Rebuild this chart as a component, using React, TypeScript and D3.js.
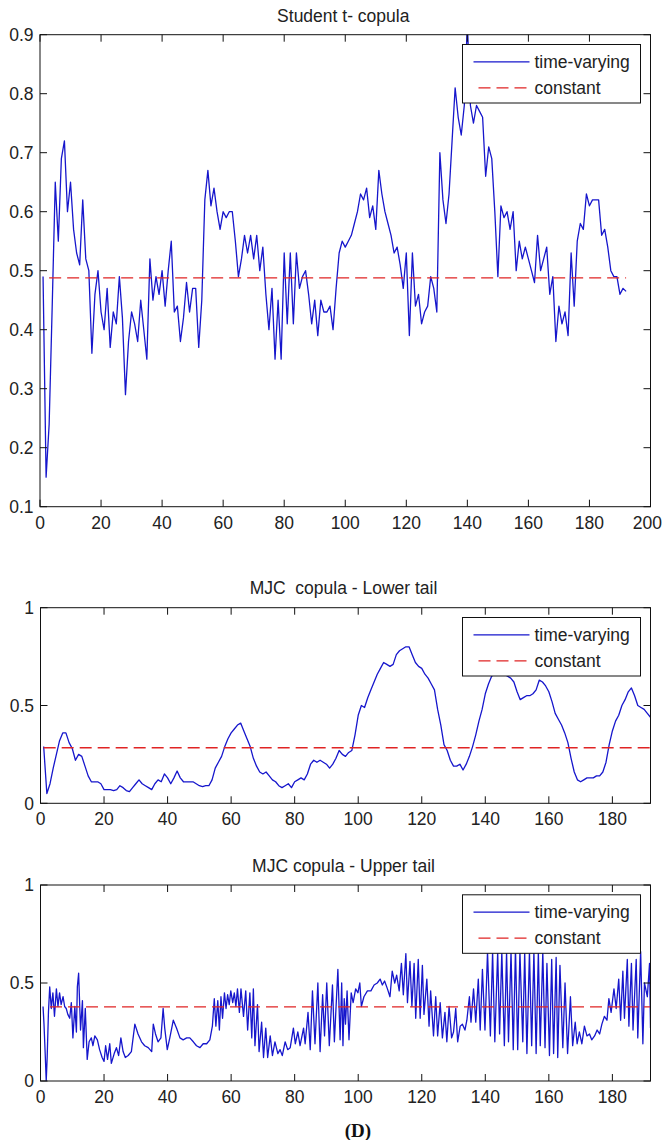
import * as d3 from 'd3'
import { useEffect, useRef } from 'react'

// Student t- copula, time-varying (t = 1..192)
const studentT = [
  0.49, 0.15, 0.24, 0.44, 0.65, 0.55, 0.69, 0.72, 0.6, 0.65,
  0.57, 0.53, 0.51, 0.62, 0.52, 0.5, 0.36, 0.46, 0.5, 0.43,
  0.4, 0.47, 0.37, 0.43, 0.41, 0.49, 0.42, 0.29, 0.38, 0.43,
  0.41, 0.38, 0.45, 0.4, 0.35, 0.52, 0.45, 0.49, 0.46, 0.5,
  0.44, 0.5, 0.55, 0.43, 0.44, 0.38, 0.42, 0.48, 0.43, 0.47,
  0.47, 0.37, 0.45, 0.62, 0.67, 0.61, 0.64, 0.6, 0.57, 0.6,
  0.59, 0.6, 0.6, 0.55, 0.49, 0.52, 0.56, 0.53, 0.56, 0.52,
  0.56, 0.5, 0.54, 0.46, 0.4, 0.47, 0.35, 0.45, 0.35, 0.53,
  0.41, 0.53, 0.41, 0.53, 0.47, 0.49, 0.5, 0.46, 0.41, 0.45,
  0.39, 0.45, 0.43, 0.43, 0.44, 0.4, 0.47, 0.53, 0.55, 0.54,
  0.55, 0.56, 0.58, 0.6, 0.63, 0.62, 0.64, 0.59, 0.61, 0.57,
  0.67, 0.63, 0.6, 0.58, 0.56, 0.53, 0.54, 0.51, 0.47, 0.53,
  0.39, 0.53, 0.44, 0.46, 0.41, 0.43, 0.44, 0.49, 0.47, 0.43,
  0.7, 0.62, 0.58, 0.63, 0.72, 0.81, 0.76, 0.73, 0.78, 0.92,
  0.78, 0.75, 0.78, 0.77, 0.76, 0.66, 0.71, 0.69, 0.6, 0.49,
  0.61, 0.59, 0.6, 0.57, 0.6, 0.5, 0.55, 0.52, 0.54, 0.52,
  0.5, 0.48, 0.56, 0.5, 0.52, 0.54, 0.46, 0.49, 0.38, 0.44,
  0.41, 0.43, 0.39, 0.53, 0.44, 0.55, 0.58, 0.57, 0.63, 0.61,
  0.62, 0.62, 0.62, 0.56, 0.57, 0.54, 0.5, 0.49, 0.49, 0.46,
  0.47, 0.465,
]

// MJC copula lower tail, time-varying (t = 1..192)
const lowerTail = [
  0.29, 0.05, 0.1, 0.18, 0.25, 0.32, 0.36, 0.36, 0.31, 0.28,
  0.22, 0.25, 0.24, 0.19, 0.14, 0.11, 0.11, 0.11, 0.1, 0.07,
  0.07, 0.07, 0.065, 0.07, 0.09, 0.08, 0.065, 0.06, 0.08, 0.1,
  0.12, 0.1, 0.09, 0.08, 0.07, 0.1, 0.12, 0.11, 0.15, 0.13,
  0.1, 0.13, 0.165, 0.13, 0.11, 0.11, 0.11, 0.11, 0.1, 0.09,
  0.085, 0.09, 0.09, 0.12, 0.18, 0.21, 0.24, 0.29, 0.33, 0.36,
  0.38, 0.4, 0.41, 0.37, 0.33, 0.29, 0.23, 0.19, 0.16, 0.15,
  0.16, 0.14, 0.12, 0.11, 0.09, 0.08, 0.09, 0.1, 0.08, 0.11,
  0.12, 0.13, 0.12, 0.15, 0.2, 0.22, 0.21, 0.22, 0.21, 0.2,
  0.18, 0.2, 0.23, 0.27, 0.25, 0.24, 0.26, 0.27, 0.35, 0.45,
  0.5, 0.49, 0.54, 0.58, 0.62, 0.66, 0.69, 0.72, 0.71, 0.7,
  0.71, 0.76, 0.78, 0.79, 0.8, 0.8, 0.76, 0.72, 0.7, 0.69,
  0.66, 0.64, 0.61, 0.58, 0.48, 0.4, 0.3, 0.27, 0.22, 0.19,
  0.19, 0.2, 0.17, 0.2, 0.24, 0.29, 0.35, 0.42, 0.48, 0.56,
  0.61, 0.65, 0.66, 0.66, 0.67, 0.66, 0.65, 0.64, 0.62, 0.57,
  0.53, 0.54, 0.55, 0.55, 0.56, 0.58, 0.63, 0.62, 0.6, 0.57,
  0.52, 0.46, 0.43, 0.4, 0.36, 0.31, 0.23, 0.16, 0.12, 0.11,
  0.12, 0.13, 0.13, 0.13, 0.14, 0.14, 0.16, 0.21, 0.3, 0.37,
  0.42, 0.45, 0.5, 0.53, 0.57, 0.59, 0.55, 0.5, 0.49, 0.48,
  0.46, 0.44,
]

// MJC copula upper tail, time-varying, read as [t, value]
const upperTail = [
  [0.8, 0.38], [1.1, 0.29], [1.5, 0.13], [1.8, 0.0], [2.1, 0.12], [2.5, 0.35], [2.9, 0.48],
  [3.4, 0.37], [3.9, 0.45], [4.4, 0.33], [5.0, 0.47], [5.5, 0.38], [6.0, 0.45], [6.5, 0.39],
  [7.1, 0.43], [7.6, 0.38], [8.1, 0.37], [8.6, 0.34], [9.2, 0.32], [9.7, 0.4], [10.2, 0.22],
  [10.8, 0.38], [11.3, 0.25], [11.6, 0.48], [12.0, 0.55], [12.6, 0.26], [13.2, 0.41], [13.5, 0.17],
  [14.1, 0.37], [14.7, 0.11], [15.3, 0.2], [16.0, 0.22], [16.5, 0.18], [17.1, 0.23], [17.9, 0.21],
  [18.6, 0.16], [19.4, 0.12], [20.0, 0.1], [20.5, 0.18], [21.1, 0.11], [21.8, 0.19], [22.3, 0.09],
  [23.2, 0.14], [23.9, 0.17], [24.6, 0.13], [25.3, 0.22], [26.0, 0.15], [26.7, 0.12], [27.6, 0.13],
  [28.6, 0.15], [29.7, 0.29], [30.7, 0.24], [31.8, 0.2], [32.8, 0.18], [33.9, 0.17], [35.0, 0.15],
  [35.5, 0.29], [36.2, 0.24], [37.0, 0.2], [37.9, 0.22], [38.6, 0.37], [39.1, 0.27], [39.9, 0.16],
  [40.7, 0.22], [41.8, 0.31], [42.8, 0.27], [43.9, 0.22], [44.9, 0.21], [46.0, 0.22], [47.0, 0.22],
  [48.1, 0.2], [49.1, 0.18], [50.2, 0.17], [51.2, 0.19], [52.3, 0.19], [53.3, 0.21], [54.1, 0.28],
  [54.7, 0.42], [55.2, 0.28], [55.8, 0.41], [56.3, 0.26], [56.8, 0.43], [57.3, 0.32], [57.9, 0.45],
  [58.4, 0.37], [58.9, 0.44], [59.4, 0.39], [59.9, 0.46], [60.5, 0.4], [61.0, 0.45], [61.5, 0.38],
  [62.0, 0.47], [62.6, 0.35], [63.1, 0.47], [63.9, 0.33], [64.6, 0.46], [65.2, 0.26], [65.9, 0.45],
  [66.5, 0.22], [67.0, 0.47], [67.5, 0.18], [68.3, 0.39], [68.8, 0.15], [69.6, 0.3], [70.2, 0.12],
  [70.9, 0.27], [71.5, 0.12], [72.3, 0.23], [73.0, 0.13], [73.8, 0.2], [74.7, 0.14], [75.4, 0.16],
  [76.1, 0.13], [77.0, 0.2], [77.8, 0.16], [78.6, 0.17], [79.6, 0.27], [80.2, 0.19], [81.0, 0.25],
  [81.7, 0.18], [82.8, 0.27], [83.3, 0.19], [84.2, 0.35], [84.9, 0.16], [85.6, 0.46], [86.4, 0.19],
  [87.3, 0.5], [88.0, 0.15], [88.8, 0.44], [89.4, 0.23], [90.1, 0.5], [90.9, 0.18], [91.9, 0.49],
  [92.5, 0.2], [93.6, 0.57], [94.3, 0.21], [94.8, 0.5], [95.2, 0.18], [95.6, 0.42], [96.0, 0.29],
  [96.5, 0.46], [97.1, 0.21], [97.8, 0.45], [98.4, 0.4], [99.2, 0.47], [99.9, 0.45], [100.5, 0.5],
  [101.0, 0.38], [101.8, 0.43], [102.9, 0.46], [104.0, 0.46], [105.0, 0.49], [106.0, 0.5], [106.9, 0.52],
  [107.6, 0.49], [108.3, 0.51], [109.2, 0.47], [110.0, 0.43], [110.7, 0.56], [111.5, 0.5], [112.1, 0.54],
  [112.9, 0.46], [113.6, 0.6], [114.2, 0.44], [115.0, 0.65], [115.5, 0.4], [116.3, 0.61], [116.9, 0.38],
  [117.6, 0.6], [118.1, 0.32], [118.9, 0.62], [119.5, 0.32], [120.2, 0.59], [120.7, 0.34], [121.6, 0.52],
  [122.3, 0.28], [122.8, 0.46], [123.7, 0.23], [124.4, 0.43], [125.0, 0.23], [125.8, 0.4], [126.5, 0.22],
  [127.3, 0.35], [127.9, 0.2], [128.6, 0.38], [129.4, 0.22], [130.0, 0.25], [130.7, 0.37], [131.3, 0.2],
  [132.1, 0.28], [132.8, 0.29], [133.6, 0.26], [134.2, 0.31], [135.0, 0.43], [135.5, 0.3], [136.3, 0.47],
  [137.0, 0.3], [137.8, 0.52], [138.4, 0.26], [139.1, 0.57], [139.9, 0.26], [140.7, 0.66], [141.6, 0.23],
  [142.3, 0.66], [143.0, 0.2], [143.9, 0.66], [144.5, 0.24], [145.2, 0.66], [146.0, 0.18], [146.7, 0.66],
  [147.3, 0.2], [148.1, 0.66], [148.8, 0.16], [149.5, 0.68], [150.2, 0.16], [150.9, 0.66], [151.8, 0.2],
  [152.4, 0.66], [153.1, 0.14], [153.9, 0.66], [154.6, 0.18], [155.3, 0.66], [156.0, 0.14], [156.7, 0.66],
  [157.3, 0.18], [158.1, 0.66], [158.8, 0.17], [159.4, 0.6], [160.2, 0.13], [160.9, 0.62], [161.5, 0.14],
  [162.3, 0.63], [162.8, 0.12], [163.5, 0.59], [164.4, 0.17], [165.1, 0.5], [165.9, 0.14], [166.8, 0.43],
  [167.5, 0.18], [168.3, 0.3], [168.9, 0.19], [169.6, 0.25], [170.4, 0.19], [171.2, 0.28], [172.0, 0.23],
  [172.8, 0.24], [173.5, 0.21], [174.4, 0.23], [175.2, 0.26], [176.0, 0.24], [176.7, 0.29], [177.5, 0.33],
  [178.3, 0.31], [178.9, 0.42], [179.6, 0.35], [180.5, 0.47], [181.2, 0.37], [182.0, 0.52], [182.6, 0.31],
  [183.3, 0.56], [183.8, 0.32], [184.7, 0.62], [185.2, 0.28], [186.0, 0.6], [186.5, 0.26], [187.5, 0.62],
  [188.0, 0.22], [188.9, 0.66], [189.6, 0.19], [190.1, 0.5], [191.0, 0.43], [191.7, 0.6], [192.0, 0.27],
]

// constant copula parameters
const studentConst = 0.488
const lowerConst = 0.284
const upperConst = 0.378

const titles = ['Student t- copula', 'MJC  copula - Lower tail', 'MJC copula - Upper tail']
const legendLabels = ['time-varying', 'constant']
const studentYTicks = [0.1, 0.2, 0.3, 0.4, 0.5, 0.6, 0.7, 0.8, 0.9]
const tailYTicks = [0, 0.5, 1]
const studentXTicks = [0, 20, 40, 60, 80, 100, 120, 140, 160, 180, 200]
const tailXTicks = [0, 20, 40, 60, 80, 100, 120, 140, 160, 180]

const FONT = '"Liberation Sans", Arial, Helvetica, sans-serif'
const FS = '17.5px'
const BLUE = '#1616cc'
const RED = '#e02424'
const TICK = 7
const W = 663

const App = () => {
  const svgRef = useRef<SVGSVGElement>(null)

  useEffect(() => {
    const svg = d3.select(svgRef.current)
    svg.selectAll('*').remove()

    const panels = [
      {
        id: 'p0', title: titles[0], top: 34.7, bottom: 506.7, left: 40, right: 650.5,
        xDomain: [0, 200], yDomain: [0.1, 0.9], xTicks: studentXTicks, yTicks: studentYTicks,
        yFmt: d3.format('.1f'),
        data: studentT.map((v, i) => [i + 1, v]), constant: studentConst, constFrom: 3,
        titleY: 21.7,
      },
      {
        id: 'p1', title: titles[1], top: 607.7, bottom: 803.3, left: 40.5, right: 650.5,
        xDomain: [0, 192], yDomain: [0, 1], xTicks: tailXTicks, yTicks: tailYTicks,
        yFmt: (d) => String(d),
        data: lowerTail.map((v, i) => [i + 1, v]), constant: lowerConst, constFrom: 1,
        titleY: 594,
      },
      {
        id: 'p2', title: titles[2], top: 885, bottom: 1081, left: 40.5, right: 650.5,
        xDomain: [0, 192], yDomain: [0, 1], xTicks: tailXTicks, yTicks: tailYTicks,
        yFmt: (d) => String(d),
        data: upperTail, constant: upperConst, constFrom: 3,
        titleY: 872,
      },
    ]

    panels.forEach((p) => {
      const x = d3.scaleLinear().domain(p.xDomain).range([p.left, p.right])
      const y = d3.scaleLinear().domain(p.yDomain).range([p.bottom, p.top])
      const g = svg.append('g')

      g.append('clipPath')
        .attr('id', `clip-${p.id}`)
        .append('rect')
        .attr('x', p.left)
        .attr('y', p.top)
        .attr('width', p.right - p.left)
        .attr('height', p.bottom - p.top)

      // title
      g.append('text')
        .attr('x', (p.left + p.right) / 2 - 2)
        .attr('y', p.titleY)
        .attr('text-anchor', 'middle')
        .style('font-family', FONT)
        .style('font-size', FS)
        .style('fill', '#222')
        .style('white-space', 'pre')
        .text(p.title)

      // series
      const plot = g.append('g').attr('clip-path', `url(#clip-${p.id})`)
      const line = d3
        .line()
        .x((d) => x(d[0]))
        .y((d) => y(d[1]))
      plot
        .append('path')
        .datum(p.data)
        .attr('d', line)
        .attr('fill', 'none')
        .attr('stroke', BLUE)
        .attr('stroke-width', 1.3)
        .attr('stroke-linejoin', 'round')
      plot
        .append('line')
        .attr('x1', x(p.constFrom))
        .attr('x2', x(192))
        .attr('y1', y(p.constant))
        .attr('y2', y(p.constant))
        .attr('stroke', RED)
        .attr('stroke-width', 1.3)
        .attr('stroke-dasharray', '12,6')

      // box + inward ticks
      g.append('rect')
        .attr('x', p.left)
        .attr('y', p.top)
        .attr('width', p.right - p.left)
        .attr('height', p.bottom - p.top)
        .attr('fill', 'none')
        .attr('stroke', '#111')
        .attr('stroke-width', 1)
      p.xTicks.forEach((t) => {
        g.append('line')
          .attr('x1', x(t)).attr('x2', x(t))
          .attr('y1', p.bottom).attr('y2', p.bottom - TICK)
          .attr('stroke', '#111')
        g.append('line')
          .attr('x1', x(t)).attr('x2', x(t))
          .attr('y1', p.top).attr('y2', p.top + TICK)
          .attr('stroke', '#111')
        // keep the last label inside the page
        const overflow = x(t) + 15 > W - 1
        g.append('text')
          .attr('x', overflow ? W - 1 : x(t))
          .attr('y', p.bottom + 22)
          .attr('text-anchor', overflow ? 'end' : 'middle')
          .style('font-family', FONT)
          .style('font-size', FS)
          .style('fill', '#222')
          .text(t)
      })
      p.yTicks.forEach((t) => {
        g.append('line')
          .attr('x1', p.left).attr('x2', p.left + TICK)
          .attr('y1', y(t)).attr('y2', y(t))
          .attr('stroke', '#111')
        g.append('line')
          .attr('x1', p.right).attr('x2', p.right - TICK)
          .attr('y1', y(t)).attr('y2', y(t))
          .attr('stroke', '#111')
        g.append('text')
          .attr('x', p.left - 6.5)
          .attr('y', y(t))
          .attr('dy', '0.36em')
          .attr('text-anchor', 'end')
          .style('font-family', FONT)
          .style('font-size', FS)
          .style('fill', '#222')
          .text(p.yFmt(t))
      })

      // legend
      const lx = p.right - 10 - 178
      const ly = p.top + 9.8
      const lg = g.append('g')
      lg.append('rect')
        .attr('x', lx)
        .attr('y', ly)
        .attr('width', 178)
        .attr('height', 58.5)
        .attr('fill', '#fff')
        .attr('stroke', '#111')
        .attr('stroke-width', 1)
      lg.append('line')
        .attr('x1', lx + 11).attr('x2', lx + 67)
        .attr('y1', ly + 17.4).attr('y2', ly + 17.4)
        .attr('stroke', BLUE)
        .attr('stroke-width', 1.3)
      lg.append('line')
        .attr('x1', lx + 16).attr('x2', lx + 67)
        .attr('y1', ly + 43.4).attr('y2', ly + 43.4)
        .attr('stroke', RED)
        .attr('stroke-width', 1.3)
        .attr('stroke-dasharray', '12,6')
      legendLabels.forEach((label, i) => {
        lg.append('text')
          .attr('x', lx + 72)
          .attr('y', ly + 23.4 + i * 26)
          .style('font-family', FONT)
          .style('font-size', FS)
          .style('fill', '#222')
          .text(label)
      })
    })

    // panel label
    svg.append('text')
      .attr('x', 358)
      .attr('y', 1137)
      .attr('text-anchor', 'middle')
      .style('font-family', '"Liberation Serif", "Times New Roman", serif')
      .style('font-weight', 'bold')
      .style('font-size', '19px')
      .style('fill', '#111')
      .text('(D)')
  }, [])

  return (
    <svg
      ref={svgRef}
      width={W}
      height={1140}
      style={{ position: 'absolute', left: 0, top: 0, background: '#fff' }}
    ></svg>
  )
}

export default App
